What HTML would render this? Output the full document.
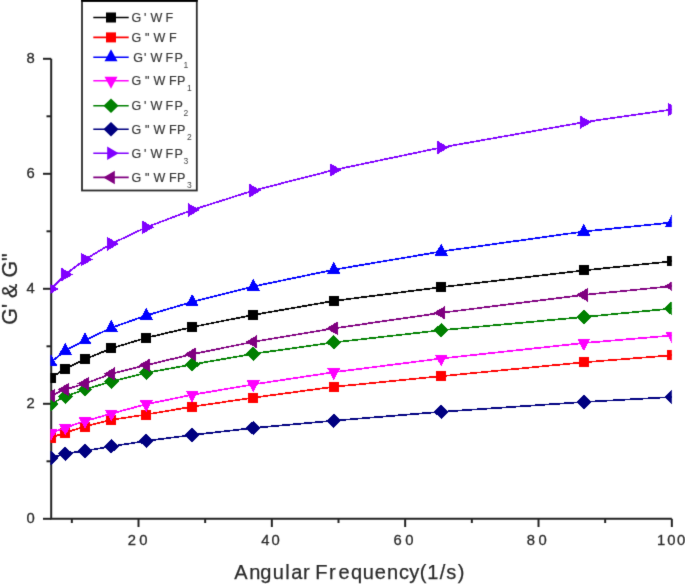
<!DOCTYPE html>
<html><head><meta charset="utf-8"><style>
html,body{margin:0;padding:0;background:#fff;}
body{width:685px;height:584px;overflow:hidden;font-family:"Liberation Sans",sans-serif;}
svg{display:block;}
</style></head><body>
<svg width="685" height="584" viewBox="0 0 685 584">
<defs><filter id="bl" x="0" y="0" width="685" height="584" filterUnits="userSpaceOnUse" color-interpolation-filters="sRGB"><feConvolveMatrix order="3" kernelMatrix="0.0183 0.1353 0.0183 0.1353 1 0.1353 0.0183 0.1353 0.0183" edgeMode="duplicate"/></filter></defs>
<g filter="url(#bl)">
<rect width="685" height="584" fill="#fff"/>
<g stroke="#242424" stroke-width="2" fill="none">
<path d="M51.2,58.80 V518.80 H671.8"/>
<path d="M43,518.80 H51.2"/>
<path d="M46.5,461.30 H51.2"/>
<path d="M43,403.80 H51.2"/>
<path d="M46.5,346.30 H51.2"/>
<path d="M43,288.80 H51.2"/>
<path d="M46.5,231.30 H51.2"/>
<path d="M43,173.80 H51.2"/>
<path d="M46.5,116.30 H51.2"/>
<path d="M43,58.80 H51.2"/>
<path d="M71.84,518.8 V523"/>
<path d="M138.50,518.8 V527"/>
<path d="M205.17,518.8 V523"/>
<path d="M271.84,518.8 V527"/>
<path d="M338.50,518.8 V523"/>
<path d="M405.17,518.8 V527"/>
<path d="M471.84,518.8 V523"/>
<path d="M538.51,518.8 V527"/>
<path d="M605.17,518.8 V523"/>
<path d="M671.84,518.8 V527"/>
</g>
<defs><clipPath id="c"><rect x="50.4" y="0" width="621.4" height="520"/></clipPath></defs>
<g clip-path="url(#c)" shape-rendering="crispEdges">
<polyline points="51.00,377.90 65.30,368.70 85.00,359.20 111.30,348.40 146.30,337.80 192.10,327.10 253.30,314.90 333.80,300.90 441.20,287.20 583.80,270.40 671.80,261.30" fill="none" stroke="#000000" stroke-width="1.7" stroke-linejoin="round"/>
<rect x="46.00" y="372.90" width="10.0" height="10.0" fill="#000000"/>
<rect x="60.30" y="363.70" width="10.0" height="10.0" fill="#000000"/>
<rect x="80.00" y="354.20" width="10.0" height="10.0" fill="#000000"/>
<rect x="106.30" y="343.40" width="10.0" height="10.0" fill="#000000"/>
<rect x="141.30" y="332.80" width="10.0" height="10.0" fill="#000000"/>
<rect x="187.10" y="322.10" width="10.0" height="10.0" fill="#000000"/>
<rect x="248.30" y="309.90" width="10.0" height="10.0" fill="#000000"/>
<rect x="328.80" y="295.90" width="10.0" height="10.0" fill="#000000"/>
<rect x="436.20" y="282.20" width="10.0" height="10.0" fill="#000000"/>
<rect x="578.80" y="265.40" width="10.0" height="10.0" fill="#000000"/>
<rect x="666.80" y="256.30" width="10.0" height="10.0" fill="#000000"/>
<polyline points="51.00,437.70 65.30,432.60 85.00,426.50 111.30,419.90 146.30,414.50 192.10,406.70 253.30,397.70 333.80,386.80 441.20,376.20 583.80,362.30 671.80,355.30" fill="none" stroke="#ff0000" stroke-width="1.7" stroke-linejoin="round"/>
<rect x="46.00" y="432.70" width="10.0" height="10.0" fill="#ff0000"/>
<rect x="60.30" y="427.60" width="10.0" height="10.0" fill="#ff0000"/>
<rect x="80.00" y="421.50" width="10.0" height="10.0" fill="#ff0000"/>
<rect x="106.30" y="414.90" width="10.0" height="10.0" fill="#ff0000"/>
<rect x="141.30" y="409.50" width="10.0" height="10.0" fill="#ff0000"/>
<rect x="187.10" y="401.70" width="10.0" height="10.0" fill="#ff0000"/>
<rect x="248.30" y="392.70" width="10.0" height="10.0" fill="#ff0000"/>
<rect x="328.80" y="381.80" width="10.0" height="10.0" fill="#ff0000"/>
<rect x="436.20" y="371.20" width="10.0" height="10.0" fill="#ff0000"/>
<rect x="578.80" y="357.30" width="10.0" height="10.0" fill="#ff0000"/>
<rect x="666.80" y="350.30" width="10.0" height="10.0" fill="#ff0000"/>
<polyline points="51.00,362.20 65.30,350.60 85.00,340.30 111.30,327.80 146.30,315.50 192.10,301.90 253.30,286.50 333.80,269.70 441.20,251.50 583.80,231.50 671.80,222.50" fill="none" stroke="#0000ff" stroke-width="1.7" stroke-linejoin="round"/>
<polygon points="51.00,354.20 57.50,366.20 44.50,366.20" fill="#0000ff"/>
<polygon points="65.30,342.60 71.80,354.60 58.80,354.60" fill="#0000ff"/>
<polygon points="85.00,332.30 91.50,344.30 78.50,344.30" fill="#0000ff"/>
<polygon points="111.30,319.80 117.80,331.80 104.80,331.80" fill="#0000ff"/>
<polygon points="146.30,307.50 152.80,319.50 139.80,319.50" fill="#0000ff"/>
<polygon points="192.10,293.90 198.60,305.90 185.60,305.90" fill="#0000ff"/>
<polygon points="253.30,278.50 259.80,290.50 246.80,290.50" fill="#0000ff"/>
<polygon points="333.80,261.70 340.30,273.70 327.30,273.70" fill="#0000ff"/>
<polygon points="441.20,243.50 447.70,255.50 434.70,255.50" fill="#0000ff"/>
<polygon points="583.80,223.50 590.30,235.50 577.30,235.50" fill="#0000ff"/>
<polygon points="671.80,214.50 678.30,226.50 665.30,226.50" fill="#0000ff"/>
<polyline points="51.00,433.00 65.30,427.70 85.00,421.10 111.30,413.60 146.30,404.20 192.10,394.80 253.30,384.40 333.80,372.20 441.20,358.50 583.80,343.00 671.80,335.50" fill="none" stroke="#ff00ff" stroke-width="1.7" stroke-linejoin="round"/>
<polygon points="51.00,441.00 57.50,429.00 44.50,429.00" fill="#ff00ff"/>
<polygon points="65.30,435.70 71.80,423.70 58.80,423.70" fill="#ff00ff"/>
<polygon points="85.00,429.10 91.50,417.10 78.50,417.10" fill="#ff00ff"/>
<polygon points="111.30,421.60 117.80,409.60 104.80,409.60" fill="#ff00ff"/>
<polygon points="146.30,412.20 152.80,400.20 139.80,400.20" fill="#ff00ff"/>
<polygon points="192.10,402.80 198.60,390.80 185.60,390.80" fill="#ff00ff"/>
<polygon points="253.30,392.40 259.80,380.40 246.80,380.40" fill="#ff00ff"/>
<polygon points="333.80,380.20 340.30,368.20 327.30,368.20" fill="#ff00ff"/>
<polygon points="441.20,366.50 447.70,354.50 434.70,354.50" fill="#ff00ff"/>
<polygon points="583.80,351.00 590.30,339.00 577.30,339.00" fill="#ff00ff"/>
<polygon points="671.80,343.50 678.30,331.50 665.30,331.50" fill="#ff00ff"/>
<polyline points="51.00,403.80 65.30,396.50 85.00,389.50 111.30,381.50 146.30,372.80 192.10,364.50 253.30,353.80 333.80,342.40 441.20,330.20 583.80,317.00 671.80,308.50" fill="none" stroke="#008000" stroke-width="1.7" stroke-linejoin="round"/>
<polygon points="51.00,396.55 58.50,403.80 51.00,411.05 43.50,403.80" fill="#008000"/>
<polygon points="65.30,389.25 72.80,396.50 65.30,403.75 57.80,396.50" fill="#008000"/>
<polygon points="85.00,382.25 92.50,389.50 85.00,396.75 77.50,389.50" fill="#008000"/>
<polygon points="111.30,374.25 118.80,381.50 111.30,388.75 103.80,381.50" fill="#008000"/>
<polygon points="146.30,365.55 153.80,372.80 146.30,380.05 138.80,372.80" fill="#008000"/>
<polygon points="192.10,357.25 199.60,364.50 192.10,371.75 184.60,364.50" fill="#008000"/>
<polygon points="253.30,346.55 260.80,353.80 253.30,361.05 245.80,353.80" fill="#008000"/>
<polygon points="333.80,335.15 341.30,342.40 333.80,349.65 326.30,342.40" fill="#008000"/>
<polygon points="441.20,322.95 448.70,330.20 441.20,337.45 433.70,330.20" fill="#008000"/>
<polygon points="583.80,309.75 591.30,317.00 583.80,324.25 576.30,317.00" fill="#008000"/>
<polygon points="671.80,301.25 679.30,308.50 671.80,315.75 664.30,308.50" fill="#008000"/>
<polyline points="51.00,457.90 65.30,453.70 85.00,450.80 111.30,446.40 146.30,440.90 192.10,435.00 253.30,428.00 333.80,420.70 441.20,411.80 583.80,402.00 671.80,397.00" fill="none" stroke="#000080" stroke-width="1.7" stroke-linejoin="round"/>
<polygon points="51.00,450.65 58.50,457.90 51.00,465.15 43.50,457.90" fill="#000080"/>
<polygon points="65.30,446.45 72.80,453.70 65.30,460.95 57.80,453.70" fill="#000080"/>
<polygon points="85.00,443.55 92.50,450.80 85.00,458.05 77.50,450.80" fill="#000080"/>
<polygon points="111.30,439.15 118.80,446.40 111.30,453.65 103.80,446.40" fill="#000080"/>
<polygon points="146.30,433.65 153.80,440.90 146.30,448.15 138.80,440.90" fill="#000080"/>
<polygon points="192.10,427.75 199.60,435.00 192.10,442.25 184.60,435.00" fill="#000080"/>
<polygon points="253.30,420.75 260.80,428.00 253.30,435.25 245.80,428.00" fill="#000080"/>
<polygon points="333.80,413.45 341.30,420.70 333.80,427.95 326.30,420.70" fill="#000080"/>
<polygon points="441.20,404.55 448.70,411.80 441.20,419.05 433.70,411.80" fill="#000080"/>
<polygon points="583.80,394.75 591.30,402.00 583.80,409.25 576.30,402.00" fill="#000080"/>
<polygon points="671.80,389.75 679.30,397.00 671.80,404.25 664.30,397.00" fill="#000080"/>
<polyline points="51.00,288.90 65.30,274.50 85.00,259.50 111.30,243.80 146.30,227.30 192.10,210.00 253.30,190.60 333.80,170.00 441.20,147.50 583.80,122.20 671.80,109.50" fill="none" stroke="#8000ff" stroke-width="1.7" stroke-linejoin="round"/>
<polygon points="58.67,288.90 47.17,282.15 47.17,295.65" fill="#8000ff"/>
<polygon points="72.97,274.50 61.47,267.75 61.47,281.25" fill="#8000ff"/>
<polygon points="92.67,259.50 81.17,252.75 81.17,266.25" fill="#8000ff"/>
<polygon points="118.97,243.80 107.47,237.05 107.47,250.55" fill="#8000ff"/>
<polygon points="153.97,227.30 142.47,220.55 142.47,234.05" fill="#8000ff"/>
<polygon points="199.77,210.00 188.27,203.25 188.27,216.75" fill="#8000ff"/>
<polygon points="260.97,190.60 249.47,183.85 249.47,197.35" fill="#8000ff"/>
<polygon points="341.47,170.00 329.97,163.25 329.97,176.75" fill="#8000ff"/>
<polygon points="448.87,147.50 437.37,140.75 437.37,154.25" fill="#8000ff"/>
<polygon points="591.47,122.20 579.97,115.45 579.97,128.95" fill="#8000ff"/>
<polygon points="679.47,109.50 667.97,102.75 667.97,116.25" fill="#8000ff"/>
<polyline points="51.00,395.60 65.30,389.50 85.00,383.60 111.30,373.80 146.30,365.20 192.10,354.20 253.30,341.80 333.80,328.40 441.20,312.80 583.80,294.90 671.80,286.20" fill="none" stroke="#800080" stroke-width="1.7" stroke-linejoin="round"/>
<polygon points="43.33,395.60 54.83,388.85 54.83,402.35" fill="#800080"/>
<polygon points="57.63,389.50 69.13,382.75 69.13,396.25" fill="#800080"/>
<polygon points="77.33,383.60 88.83,376.85 88.83,390.35" fill="#800080"/>
<polygon points="103.63,373.80 115.13,367.05 115.13,380.55" fill="#800080"/>
<polygon points="138.63,365.20 150.13,358.45 150.13,371.95" fill="#800080"/>
<polygon points="184.43,354.20 195.93,347.45 195.93,360.95" fill="#800080"/>
<polygon points="245.63,341.80 257.13,335.05 257.13,348.55" fill="#800080"/>
<polygon points="326.13,328.40 337.63,321.65 337.63,335.15" fill="#800080"/>
<polygon points="433.53,312.80 445.03,306.05 445.03,319.55" fill="#800080"/>
<polygon points="576.13,294.90 587.63,288.15 587.63,301.65" fill="#800080"/>
<polygon points="664.13,286.20 675.63,279.45 675.63,292.95" fill="#800080"/>
</g>
<g fill="#2b2b2b" font-family="Liberation Sans, sans-serif" font-size="14.8" stroke="#2b2b2b" stroke-width="0.3">
<text x="34.8" y="522.70" text-anchor="end">0</text>
<text x="34.8" y="407.70" text-anchor="end">2</text>
<text x="34.8" y="292.70" text-anchor="end">4</text>
<text x="34.8" y="177.70" text-anchor="end">6</text>
<text x="34.8" y="62.70" text-anchor="end">8</text>
<text x="127.8 139.3" y="545.2">20</text>
<text x="261.3 271.6" y="545.2">40</text>
<text x="393.5 405.2" y="545.2">60</text>
<text x="526.8 538.5" y="545.2">80</text>
<text x="657.0 667.2 677.0" y="545.2">100</text>
</g>
<text x="234.3 249.2 260.2 272.7 285.2 291.3 303.0 308.2 315.2 328.9 338.6 350.9 362.7 374.7 387.0 399.0 409.3 419.8 427.3 439.7 446.3 457.7" y="578.6" fill="#2b2b2b" stroke="#2b2b2b" stroke-width="0.25" font-family="Liberation Sans, sans-serif" font-size="20">Angular Frequency(1/s)</text>
<text transform="translate(17,289) rotate(-90)" fill="#2b2b2b" stroke="#2b2b2b" stroke-width="0.25" font-family="Liberation Sans, sans-serif" font-size="21.5" text-anchor="middle" letter-spacing="0">G' &amp; G"</text>
<rect x="82" y="0.9" width="114.8" height="189.6" fill="#fff" stroke="#2c2c2c" stroke-width="1.8"/>
<path d="M81.1,0.9 H197.7" stroke="#000" stroke-width="1.8"/>
<path d="M93.3,17.5 H128.7" stroke="#000000" stroke-width="1.6"/>
<rect x="106.00" y="12.50" width="10.0" height="10.0" fill="#000000"/>
<text x="131.5 144.0 150.4 165.5" y="21.80" fill="#383838" stroke="#383838" stroke-width="0.2" font-family="Liberation Sans, sans-serif" font-size="12.5">G&#39;WF</text>
<path d="M93.3,37.4 H128.7" stroke="#ff0000" stroke-width="1.6"/>
<rect x="106.00" y="32.40" width="10.0" height="10.0" fill="#ff0000"/>
<text x="131.5 144.9 153.6 169.0" y="41.70" fill="#383838" stroke="#383838" stroke-width="0.2" font-family="Liberation Sans, sans-serif" font-size="12.5">G&quot;WF</text>
<path d="M93.3,57.3 H128.7" stroke="#0000ff" stroke-width="1.6"/>
<polygon points="111.00,49.30 117.50,61.30 104.50,61.30" fill="#0000ff"/>
<text x="133.2 144.0 150.4 165.5 174.4" y="61.60" fill="#383838" stroke="#383838" stroke-width="0.2" font-family="Liberation Sans, sans-serif" font-size="12.5">G&#39;WFP</text>
<text x="183.4" y="67.60" fill="#444" font-family="Liberation Sans, sans-serif" font-size="8.5">1</text>
<path d="M93.3,80.7 H128.7" stroke="#ff00ff" stroke-width="1.6"/>
<polygon points="111.00,88.70 117.50,76.70 104.50,76.70" fill="#ff00ff"/>
<text x="131.5 144.9 153.6 169.0 177.1" y="85.00" fill="#383838" stroke="#383838" stroke-width="0.2" font-family="Liberation Sans, sans-serif" font-size="12.5">G&quot;WFP</text>
<text x="187.0" y="91.00" fill="#444" font-family="Liberation Sans, sans-serif" font-size="8.5">1</text>
<path d="M93.3,105.8 H128.7" stroke="#008000" stroke-width="1.6"/>
<polygon points="111.00,98.55 118.50,105.80 111.00,113.05 103.50,105.80" fill="#008000"/>
<text x="131.5 144.0 150.4 165.5 174.4" y="110.10" fill="#383838" stroke="#383838" stroke-width="0.2" font-family="Liberation Sans, sans-serif" font-size="12.5">G&#39;WFP</text>
<text x="183.4" y="116.10" fill="#444" font-family="Liberation Sans, sans-serif" font-size="8.5">2</text>
<path d="M93.3,129.3 H128.7" stroke="#000080" stroke-width="1.6"/>
<polygon points="111.00,122.05 118.50,129.30 111.00,136.55 103.50,129.30" fill="#000080"/>
<text x="131.5 144.9 153.6 169.0 177.1" y="133.60" fill="#383838" stroke="#383838" stroke-width="0.2" font-family="Liberation Sans, sans-serif" font-size="12.5">G&quot;WFP</text>
<text x="187.0" y="139.60" fill="#444" font-family="Liberation Sans, sans-serif" font-size="8.5">2</text>
<path d="M93.3,153.3 H128.7" stroke="#8000ff" stroke-width="1.6"/>
<polygon points="118.67,153.30 107.17,146.55 107.17,160.05" fill="#8000ff"/>
<text x="131.5 144.0 150.4 165.5 174.4" y="157.60" fill="#383838" stroke="#383838" stroke-width="0.2" font-family="Liberation Sans, sans-serif" font-size="12.5">G&#39;WFP</text>
<text x="183.4" y="163.60" fill="#444" font-family="Liberation Sans, sans-serif" font-size="8.5">3</text>
<path d="M93.3,177.4 H128.7" stroke="#800080" stroke-width="1.6"/>
<polygon points="103.33,177.40 114.83,170.65 114.83,184.15" fill="#800080"/>
<text x="131.5 144.9 153.6 169.0 177.1" y="181.70" fill="#383838" stroke="#383838" stroke-width="0.2" font-family="Liberation Sans, sans-serif" font-size="12.5">G&quot;WFP</text>
<text x="187.0" y="187.70" fill="#444" font-family="Liberation Sans, sans-serif" font-size="8.5">3</text>
</g>
</svg>
</body></html>
